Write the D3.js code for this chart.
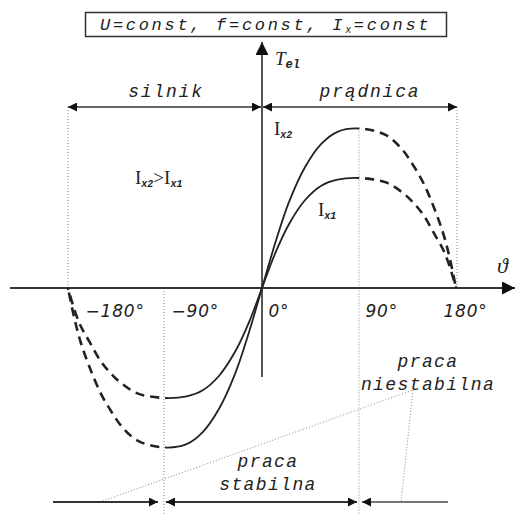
<!DOCTYPE html>
<html>
<head>
<meta charset="utf-8">
<script src="https://cdn.jsdelivr.net/npm/d3@7"></script>
<style>
  body { margin: 0; background: #fff; }
  .mono { font-family: "Liberation Mono", "DejaVu Sans Mono", monospace; font-style: italic; }
  .serif { font-family: "Liberation Serif", "DejaVu Serif", serif; }
</style>
</head>
<body>
<svg id="chart" width="522" height="515"></svg>
<script>
// Load angle (degrees) and electromagnetic torque (relative to the I_x1 peak)
const angles    = [-180,-174,-168,-160,-150,-140,-130,-115,-90,-70,-55,-40,-25,-12,0,12,25,40,55,70,90,115,130,140,150,160,168,174,180];
const torqueIx1 = [0,-0.20,-0.35,-0.49,-0.66,-0.78,-0.87,-0.96,-1.00,-0.985,-0.93,-0.80,-0.58,-0.31,0,0.31,0.58,0.80,0.93,0.985,1.00,0.96,0.87,0.78,0.66,0.49,0.35,0.20,0];
const torqueIx2 = [0,-0.28,-0.50,-0.72,-0.95,-1.12,-1.26,-1.39,-1.45,-1.42,-1.31,-1.10,-0.78,-0.40,0,0.40,0.78,1.10,1.31,1.42,1.45,1.39,1.26,1.12,0.95,0.72,0.50,0.28,0];

const tickAngles = [-180, -90, 0, 90, 180];
const tickLabels = ["\u2212180\u00B0", "\u221290\u00B0", "0\u00B0", "90\u00B0", "180\u00B0"];

// Stable operating range and the two regimes
const stableRange = [-90, 90];
const regions = [
  { name: "silnik",   from: -180, to: 0 },
  { name: "prądnica", from: 0,    to: 180 }
];

const svg = d3.select("#chart");
const ink = "#222";

const x = d3.scaleLinear().domain([-180, 180]).range([68, 456]);
const y = d3.scaleLinear().domain([-1, 1]).range([398, 178]);
const x0 = x(0), y0 = y(0);

// arrowhead markers
const defs = svg.append("defs");
function marker(id, color, w, h) {
  defs.append("marker")
    .attr("id", id)
    .attr("viewBox", "0 0 10 10")
    .attr("refX", 10).attr("refY", 5)
    .attr("markerWidth", w).attr("markerHeight", h)
    .attr("markerUnits", "userSpaceOnUse")
    .attr("orient", "auto-start-reverse")
    .append("path").attr("d", "M0,0 L10,5 L0,10 Z").attr("fill", color);
}
marker("arr", "#111", 10, 9);
marker("arrBig", "#111", 14, 13);

// clip regions: stable band and the two unstable sides
function clip(id, x1, x2) {
  defs.append("clipPath").attr("id", id)
    .append("rect").attr("x", x1).attr("y", 0).attr("width", x2 - x1).attr("height", 515);
}
clip("clipStable", x(stableRange[0]), x(stableRange[1]));
clip("clipLeft", 0, x(stableRange[0]));
clip("clipRight", x(stableRange[1]), 522);

// title box
const titleBox = svg.append("g");
titleBox.append("rect")
  .attr("x", 85.5).attr("y", 12.5).attr("width", 361).attr("height", 24)
  .attr("fill", "#fff").attr("stroke", "#333").attr("stroke-width", 1.5);
const tt = titleBox.append("text").attr("class", "mono")
  .attr("x", 100).attr("y", 30)
  .attr("font-size", 17).attr("letter-spacing", 2.7).attr("fill", ink);
tt.append("tspan").text("U=const, f=const, I");
tt.append("tspan").attr("font-size", 10).attr("dy", 3).text("x");
tt.append("tspan").attr("dy", -3).text("=const");

// dotted guide lines
function dline(x1, y1, x2, y2) {
  return svg.append("line").attr("x1", x1).attr("y1", y1).attr("x2", x2).attr("y2", y2)
    .attr("stroke", "#888").attr("stroke-width", 1).attr("stroke-dasharray", "1,2");
}
dline(x(-180), 107, x(-180), y0);
dline(x(180) + 1, 107, x(180) + 1, y0);
dline(x(stableRange[1]), y(1.45), x(stableRange[1]), 515);
dline(x(stableRange[0]) - 1, y0, x(stableRange[0]) - 1, 515);
// leaders to "praca niestabilna"
dline(100, 502, 413, 390);
dline(413, 390, 401, 502);

// regime arrows (silnik / prądnica)
const regY = 107;
svg.append("line")
  .attr("x1", x(regions[0].from)).attr("y1", regY).attr("x2", x0 - 1).attr("y2", regY)
  .attr("stroke", "#666").attr("stroke-width", 2)
  .attr("marker-start", "url(#arr)").attr("marker-end", "url(#arr)");
svg.append("line")
  .attr("x1", x0 + 1).attr("y1", regY).attr("x2", x(regions[1].to) + 1).attr("y2", regY)
  .attr("stroke", "#666").attr("stroke-width", 2)
  .attr("marker-start", "url(#arr)").attr("marker-end", "url(#arr)");
svg.selectAll(".regLabel").data(regions).join("text")
  .attr("class", "mono regLabel")
  .attr("x", (d, i) => i === 0 ? 166 : 370)
  .attr("y", 97)
  .attr("text-anchor", "middle")
  .attr("font-size", 18).attr("letter-spacing", 1.8)
  .attr("fill", ink)
  .text(d => d.name);

// axes
svg.append("line")
  .attr("x1", 10).attr("y1", y0).attr("x2", 515).attr("y2", y0)
  .attr("stroke", "#333").attr("stroke-width", 2)
  .attr("marker-end", "url(#arrBig)");
svg.append("line")
  .attr("x1", x0).attr("y1", 377).attr("x2", x0).attr("y2", 42)
  .attr("stroke", "#555").attr("stroke-width", 2)
  .attr("marker-end", "url(#arrBig)");

// axis titles
const tel = svg.append("text").attr("x", 275).attr("y", 65).attr("fill", ink);
tel.append("tspan").attr("class", "serif").attr("font-style", "italic").attr("font-size", 19).text("T");
tel.append("tspan").attr("class", "mono").attr("font-weight", "bold").attr("font-style", "normal")
  .attr("font-size", 12).attr("dy", 3).text("el");
svg.append("text").attr("class", "serif")
  .attr("x", 497).attr("y", 273)
  .attr("font-size", 22).attr("font-style", "italic").attr("fill", ink)
  .text("\u03D1");

// angle tick labels
const tickDx = [17, 6, 6, 6, -13];
const axisG = svg.append("g")
  .attr("transform", `translate(0,${y0})`)
  .call(d3.axisBottom(x).tickValues(tickAngles).tickSize(0)
        .tickFormat((d, i) => tickLabels[i]));
axisG.select(".domain").remove();
axisG.selectAll("text")
  .attr("font-family", "DejaVu Sans, Verdana, sans-serif")
  .attr("font-style", "italic")
  .attr("font-size", 17)
  .attr("letter-spacing", 0.8)
  .attr("fill", ink)
  .attr("text-anchor", "start")
  .attr("dy", null)
  .attr("y", 29)
  .attr("x", (d, i) => tickDx[i]);

// torque-angle curves: solid in the stable range, dashed outside it
const line = d3.line()
  .x(d => x(d[0])).y(d => y(d[1]))
  .curve(d3.curveCatmullRom.alpha(0.5));

// path length from the start of a path to the point where it reaches xTarget
function lengthAtX(node, xTarget) {
  let lo = 0, hi = node.getTotalLength();
  for (let k = 0; k < 40; k++) {
    const mid = (lo + hi) / 2;
    if (node.getPointAtLength(mid).x < xTarget) lo = mid; else hi = mid;
  }
  return lo;
}

const dash = 9, gap = 6;
function drawCurve(values) {
  const pts = angles.map((a, i) => [a, values[i]]);
  const d = line(pts);
  svg.append("path").attr("d", d).attr("clip-path", "url(#clipStable)")
    .attr("fill", "none").attr("stroke", ink).attr("stroke-width", 1.8);
  // left side: a gap ends exactly at -90 deg
  const left = svg.append("path").attr("d", d).attr("clip-path", "url(#clipLeft)")
    .attr("fill", "none").attr("stroke", ink).attr("stroke-width", 2.6)
    .attr("stroke-dasharray", `${dash},${gap}`);
  const lL = lengthAtX(left.node(), x(stableRange[0]));
  left.attr("stroke-dashoffset", (dash + gap) - ((lL) % (dash + gap)));
  // right side: a gap starts exactly at +90 deg
  const right = svg.append("path").attr("d", d).attr("clip-path", "url(#clipRight)")
    .attr("fill", "none").attr("stroke", ink).attr("stroke-width", 2.6)
    .attr("stroke-dasharray", `${dash},${gap}`);
  const lR = lengthAtX(right.node(), x(stableRange[1]));
  right.attr("stroke-dashoffset", dash - (lR % (dash + gap)));
}
drawCurve(torqueIx1);
drawCurve(torqueIx2);

// curve labels
function currentLabel(xPos, yPos, parts) {
  const t = svg.append("text").attr("x", xPos).attr("y", yPos).attr("fill", ink);
  parts.forEach(([main, sub], k) => {
    t.append("tspan").attr("class", "serif").attr("font-size", 19)
      .attr("dy", k === 0 ? 0 : -3).text(main);
    t.append("tspan").attr("class", "mono").attr("font-weight", "bold")
      .attr("font-size", 10).attr("dy", 3).text(sub);
  });
  return t;
}
currentLabel(274, 135, [["I", "x2"]]);
currentLabel(318, 216, [["I", "x1"]]);
currentLabel(135, 184, [["I", "x2"], [">I", "x1"]]);

// stable / unstable operation
const botY = 502;
svg.append("line")
  .attr("x1", 53).attr("y1", botY).attr("x2", x(stableRange[0]) - 7).attr("y2", botY)
  .attr("stroke", "#333").attr("stroke-width", 2)
  .attr("marker-end", "url(#arr)");
svg.append("line")
  .attr("x1", x(stableRange[0]) + 1).attr("y1", botY).attr("x2", x(stableRange[1]) - 2).attr("y2", botY)
  .attr("stroke", "#333").attr("stroke-width", 2)
  .attr("marker-start", "url(#arr)").attr("marker-end", "url(#arr)");
svg.append("line")
  .attr("x1", 448).attr("y1", botY).attr("x2", x(stableRange[1]) + 3).attr("y2", botY)
  .attr("stroke", "#777").attr("stroke-width", 2)
  .attr("marker-end", "url(#arr)");

function monoBlock(lines, cx, yFirst) {
  const t = svg.append("text").attr("class", "mono")
    .attr("font-size", 18).attr("letter-spacing", 1.4)
    .attr("text-anchor", "middle").attr("fill", ink);
  lines.forEach((s, i) => t.append("tspan").attr("x", cx).attr("y", yFirst + i * 23).text(s));
}
monoBlock(["praca", "niestabilna"], 428, 367);
monoBlock(["praca", "stabilna"], 268, 467);
</script>
</body>
</html>
